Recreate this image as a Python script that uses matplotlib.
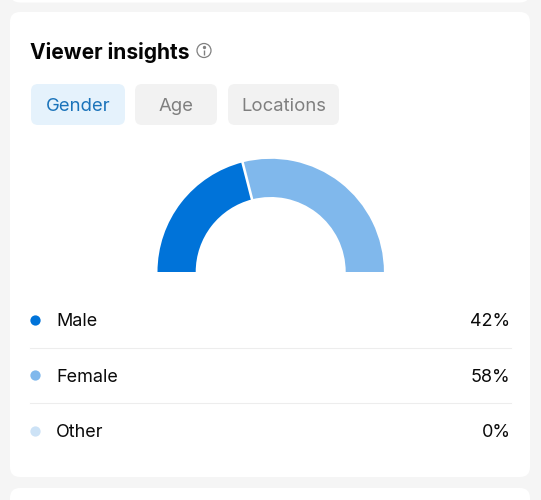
import numpy as np
import matplotlib
matplotlib.use("Agg")
import matplotlib.pyplot as plt
from matplotlib.patches import FancyBboxPatch, Circle

plt.rcParams['font.family'] = ['Inter', 'DejaVu Sans']

categories = ["Male", "Female", "Other"]
values = [42, 58, 0]
value_labels = ["42%", "58%", "0%"]
colors = ["#0073D9", "#80B8EC", "#CCE2F6"]
tabs = ["Gender", "Age", "Locations"]
title = "Viewer insights"

W, H = 541, 500
fig = plt.figure(figsize=(W / 100, H / 100), dpi=100, facecolor="#F5F5F5")
ax = fig.add_axes([0, 0, 1, 1])
ax.set_xlim(0, W)
ax.set_ylim(H, 0)
ax.axis("off")


def px(size):
    return size * 0.72


def card(x0, y0, x1, y1, color, r):
    ax.add_patch(FancyBboxPatch((x0 + r, y0 + r), x1 - x0 - 2 * r, y1 - y0 - 2 * r,
                                boxstyle=f"round,pad={r},rounding_size={r}",
                                fc=color, ec="none", zorder=1))


card(10, -30, 530, 2.5, "white", 10)
card(10, 12, 530, 477, "white", 10)
card(10, 488, 530, 530, "white", 10)

ax.text(30.5, 52.5, title, fontsize=px(21), fontweight="bold", color="#050505",
        va="center", ha="left", zorder=3)

# info icon
ax.add_patch(Circle((204, 50.5), 7, fc="none", ec="#808080", lw=0.9, zorder=3))
ax.plot([204, 204], [50, 54.5], color="#808080", lw=1.0, zorder=3, solid_capstyle="butt")
ax.plot([204], [47], marker="o", ms=1.4, color="#808080", zorder=3)

# tabs
tab_boxes = [(31, 125), (135, 217), (228, 339)]
for i, (label, (x0, x1)) in enumerate(zip(tabs, tab_boxes)):
    active = i == 0
    card(x0, 84, x1, 125, "#E5F2FC" if active else "#F2F2F2", 7)
    ax.text((x0 + x1) / 2, 106.5, label, fontsize=px(18.5), ha="center", va="center",
            color="#1A73BA" if active else "#7F7F7F", zorder=3)

# half donut: centre (270.7, 272), outer radius 113.2, inner radius 75
cx, cy, R, r_in = 270.7, 272, 113.2, 75
pie_ax = fig.add_axes([(cx - R) / W, 1 - (cy + R) / H, 2 * R / W, 2 * R / H])
pie_ax.set_facecolor("none")
total = sum(values)
pie_ax.pie(values + [total], colors=colors + ["none"], startangle=180, counterclock=False,
           radius=1, wedgeprops=dict(width=1 - r_in / R, linewidth=0))
pie_ax.set_xlim(-1, 1)
pie_ax.set_ylim(-1, 1)
pie_ax.set_aspect("equal")
theta = np.pi - np.pi * values[0] / total
pie_ax.plot([0.64 * np.cos(theta), 1.02 * np.cos(theta)],
            [0.64 * np.sin(theta), 1.02 * np.sin(theta)],
            color="white", lw=1.9, solid_capstyle="butt")

# legend rows
rows_y = [322, 377, 432.5]
dots_y = [319.5, 375, 430.5]
for name, lab, c, y, dy in zip(categories, value_labels, colors, rows_y, dots_y):
    ax.plot([35], [dy], marker="o", ms=7.4, mec="none", color=c, zorder=3)
    ax.text(56, y, name, fontsize=px(18), va="center", ha="left", color="#0A0A0A", zorder=3)
    ax.text(510.5, y, lab, fontsize=px(18), va="center", ha="right", color="#0A0A0A", zorder=3)
for y in [347.5, 402.5]:
    ax.plot([30, 510.5], [y, y], color="#EDEDED", lw=0.8, zorder=2)

fig.savefig("out.png", dpi=100, facecolor=fig.get_facecolor())
